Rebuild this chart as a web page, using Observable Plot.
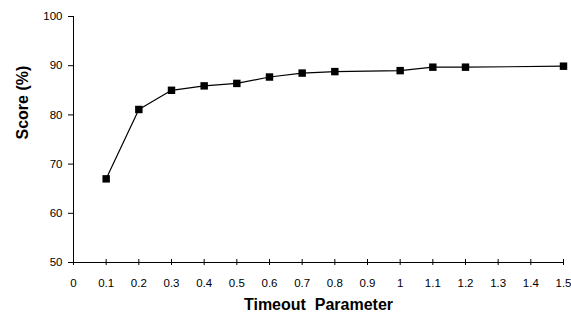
<!DOCTYPE html>
<html><head><meta charset="utf-8">
<script src="https://cdn.jsdelivr.net/npm/d3@7"></script>
<script src="https://cdn.jsdelivr.net/npm/@observablehq/plot@0.6"></script>
<style>body{margin:0;background:#fff;} svg{display:block;}</style>
</head><body><div id="chart"></div>
<script>
const timeout = [0.1, 0.2, 0.3, 0.4, 0.5, 0.6, 0.7, 0.8, 1.0, 1.1, 1.2, 1.5];
const score = [67, 81.1, 85.0, 85.9, 86.4, 87.7, 88.5, 88.8, 89.0, 89.7, 89.7, 89.9];
const xTicks = [0, 0.1, 0.2, 0.3, 0.4, 0.5, 0.6, 0.7, 0.8, 0.9, 1, 1.1, 1.2, 1.3, 1.4, 1.5];
const yTicks = [50, 60, 70, 80, 90, 100];
const data = timeout.map((t, i) => ({t, s: score[i]}));

const chart = Plot.plot({
  width: 571, height: 322,
  marginLeft: 73, marginRight: 8, marginTop: 16, marginBottom: 60,
  style: {fontFamily: "Liberation Sans, Arial, sans-serif", fontSize: "11px", color: "#000", background: "#fff"},
  x: {domain: [0, 1.5]},
  y: {domain: [50, 100]},
  marks: [
    Plot.ruleY([50], {stroke: "#000", strokeWidth: 1.2}),
    Plot.ruleX([0], {stroke: "#000", strokeWidth: 1}),
    Plot.axisY({ticks: yTicks, tickSize: 5, tickPadding: 6, label: null, fontSize: 11.5}),
    Plot.axisX({ticks: xTicks, tickSize: 3, tickPadding: 13, label: null, fontSize: 11.5, tickFormat: d => String(d)}),
    Plot.axisX({ticks: xTicks, tickSize: -3, tickFormat: () => "", label: null}),
    Plot.text(["Score (%)"], {frameAnchor: "left", dx: -51, rotate: -90, fontSize: 16, fontWeight: "bold"}),
    Plot.text(["Timeout  Parameter"], {frameAnchor: "bottom", dy: 47, fontSize: 16, fontWeight: "bold"}),
    Plot.line(data, {x: "t", y: "s", stroke: "#000", strokeWidth: 1.2}),
    Plot.dot(data, {x: "t", y: "s", symbol: "square", fill: "#000", r: 4.2})
  ]
});
document.getElementById("chart").appendChild(chart);
</script></body></html>
